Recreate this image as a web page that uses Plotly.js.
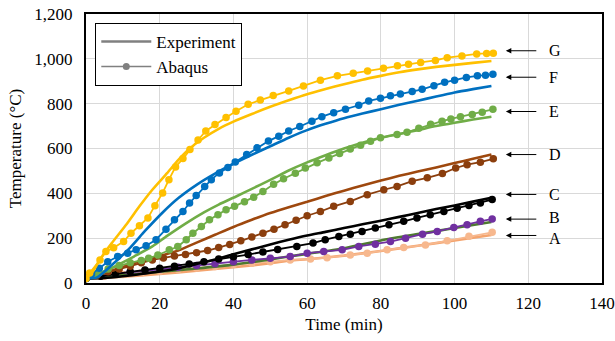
<!DOCTYPE html>
<html>
<head>
<meta charset="utf-8">
<script src="https://cdn.plot.ly/plotly-3.0.1.min.js"></script>
<style>html,body{margin:0;padding:0;background:#fff;}#chart{width:615px;height:341px;}</style>
</head>
<body>
<div id="chart"></div>
<script>
// ---- Data ----
const seriesLabels = ["A", "B", "C", "D", "E", "F", "G"];

// G
const gExpT = [0,2,4,7,11,14.5,18,22,25,28,32,36,40,45,50,55,60,65,70,75,80,85,90,95,100,105,110];
const gExpV = [20,55,110,178,262,342,416,490,548,598,648,688,720,754,786,815,842,865,887,907,924,940,953,964,973,982,990];
const gAbqT = [0,1,3.8,5.4,7.5,10.2,12.2,14.5,16.8,18.7,20.8,22.5,24.3,26.3,28.2,30.4,32.5,35,38,40.7,44,47.3,50.8,55,59,63.6,68.2,72.5,76.4,80.7,84.5,87.5,90.8,94.8,98,102,106,108.7,110.5];
const gAbqV = [20,45,103,140,157,185,222,255,290,345,402,461,518,555,596,638,678,707,738,766,797,816,836,857,879,905,924,936,946,958,969,976,984,993,1005,1013,1022,1024,1025];

// F
const fExpT = [0,3,7,12,16,21,25,30,35,40,45,50,55,60,65,70,75,80,85,90,95,100,105,110];
const fExpV = [20,25,80,158,232,318,378,438,488,532,572,610,648,682,710,735,756,775,795,813,832,850,865,879];
const fAbqT = [0,1.5,3.6,5.9,8.6,11.3,13.6,16.3,19,21.7,24,26.3,28.1,29.9,32.2,34,36.2,38.5,40.5,43.6,46.4,49.5,52.3,55,58,61.3,64,67.2,70.4,74,76.7,79.9,82.6,85.3,88.5,91.2,94.4,97.3,100,103.2,106.2,108.4,110.4];
const fAbqV = [20,40,66,95,118,133,148,166,193,240,282,319,357,390,431,461,491,515,540,573,603,633,655,678,698,722,742,760,775,793,812,824,835,843,854,864,880,895,905,917,924,927,931];

// E
const eExpT = [0,4,8,13,18,22,27,32,36,41,45,50,55,60,65,70,75,80,85,90,95,100,105,110];
const eExpV = [20,40,75,118,163,210,265,315,350,388,420,460,502,538,570,600,626,648,665,682,700,715,729,742];
const eAbqT = [0,3,6,9,12,15,17,19.5,22.6,24.9,27.2,29,31.3,33.5,35.8,38,40.3,43,45.5,48,50.9,53.6,56.8,59.5,62.7,65.9,68.8,71.7,74.5,77.2,79.9,84.4,87.1,90.3,93.5,96.6,99,101.6,104.8,107.5,110.4];
const eAbqV = [20,42,62,78,90,100,110,125,148,163,193,222,252,282,305,327,342,362,383,408,440,465,490,513,536,558,578,598,615,632,648,662,672,690,708,722,732,742,752,762,775];

// D
const dExpT = [0,5,10,15,20,25,30,35,40,45,50,55,60,65,70,75,80,85,90,95,100,105,110];
const dExpV = [20,45,72,98,120,145,180,215,250,282,312,338,362,388,412,435,457,478,497,515,535,554,573];
const dAbqT = [0,3,6,9,12,15,18,21,24,27,30,33,36,39,42,45,48,51,54,57,60,63.6,67.2,71.7,76.3,80.8,84.4,88.5,92.6,96.7,100.3,103.4,107,110.5];
const dAbqV = [20,35,50,62,75,90,103,112,120,127,135,145,158,172,188,205,222,240,260,280,300,319,342,364,394,416,431,454,469,488,513,528,539,554];

// C
const cExpT = [0,5,10,15,20,25,30,35,40,45,50,55,60,65,70,75,80,85,90,95,100,105,110];
const cExpV = [20,22,30,40,52,65,85,105,128,150,172,193,212,228,245,262,278,295,312,330,346,363,380];
const cAbqT = [0,4,8,12,16,20,24,28,32,36,40,44,48,52,57.2,61.6,64.9,68.6,71.7,74.9,78.5,82.2,86.2,89.8,93.4,97.1,100.7,103.9,107,110.2];
const cAbqV = [20,30,42,50,58,66,75,85,95,107,117,127,138,150,163,178,193,207,218,230,245,260,275,290,304,319,334,346,357,372];

// B
const bExpT = [0,10,20,30,40,50,55,60,70,80,90,100,110];
const bExpV = [20,35,50,65,82,105,118,130,155,190,218,245,272];
const bAbqT = [0,4,8,12,16,20,25,30,35,40,45,50,55.4,60,64.5,69.5,74,78.5,82.6,86.7,91.3,95.3,99.8,103.4,107,110.2];
const bAbqV = [20,32,42,48,55,62,70,78,86,95,103,110,118,133,140,148,163,173,185,200,218,230,248,260,275,286];

// A
const aExpT = [0,10,20,30,40,50,55.4,60,70,80,90,100,110];
const aExpV = [18,28,40,55,70,88,100,106,122,143,166,190,214];
const aAbqT = [0,5,10,15,20,25,30,35,40,45,50,55.4,60.9,65.4,71.7,76.3,81.7,86.2,92.1,98,103.9,110.2];
const aAbqV = [20,30,38,45,52,60,67,74,82,88,95,103,107,113,125,133,148,158,170,188,208,226];

// label arrows (A..G) and label text levels
const arrowY = [212, 285, 395, 573, 765, 918, 1036];
const textY  = [198, 291, 395, 573, 765, 918, 1036];

// ---- Build traces ----
const series = [
  {exp:[aExpT,aExpV], abq:[aAbqT,aAbqV], ec:'#F4A46E', ac:'#F7B88E'},
  {exp:[bExpT,bExpV], abq:[bAbqT,bAbqV], ec:'#4E7A30', ac:'#7030A0'},
  {exp:[cExpT,cExpV], abq:[cAbqT,cAbqV], ec:'#000000', ac:'#000000'},
  {exp:[dExpT,dExpV], abq:[dAbqT,dAbqV], ec:'#9E480E', ac:'#8B3E0D'},
  {exp:[eExpT,eExpV], abq:[eAbqT,eAbqV], ec:'#70AD47', ac:'#70AD47'},
  {exp:[fExpT,fExpV], abq:[fAbqT,fAbqV], ec:'#0070C0', ac:'#0070C0'},
  {exp:[gExpT,gExpV], abq:[gAbqT,gAbqV], ec:'#FFC000', ac:'#FFC000'}
];
const traces = [];
series.forEach(s => {
  traces.push({x:s.exp[0], y:s.exp[1], mode:'lines', type:'scatter', showlegend:false,
    line:{color:s.ec, width:2.6, shape:'spline', smoothing:0.6}, hoverinfo:'skip'});
  traces.push({x:s.abq[0], y:s.abq[1], mode:'lines+markers', type:'scatter', showlegend:false,
    line:{color:s.ac, width:1.8}, marker:{color:s.ac, size:7.5}, hoverinfo:'skip'});
});
// legend keys
traces.push({x:[-50], y:[-50], mode:'lines', name:'Experiment', line:{color:'#808080', width:2.6}, showlegend:true});
traces.push({x:[-50], y:[-50], mode:'lines+markers', name:'Abaqus', line:{color:'#808080', width:1.5}, marker:{color:'#808080', size:7}, showlegend:true});

const font = 'Liberation Serif';
const annotations = [];
seriesLabels.forEach((lab, i) => {
  annotations.push({x:113.9, y:arrowY[i], xref:'x', yref:'y', text:'', showarrow:true,
    ax:32, ay:0, axref:'pixel', arrowhead:2, arrowsize:1.1, arrowwidth:1, arrowcolor:'#000'});
  annotations.push({x:125.3, y:textY[i], xref:'x', yref:'y', text:lab, showarrow:false, borderpad:0,
    xanchor:'left', yanchor:'middle', font:{family:font, size:16, color:'#000'}});
});

const layout = {
  width:615, height:341,
  margin:{l:86, r:13, t:14, b:58},
  paper_bgcolor:'#fff', plot_bgcolor:'#fff',
  font:{family:font, size:17, color:'#000'},
  xaxis:{range:[0,140], dtick:20, tick0:0, showgrid:true, gridcolor:'#d9d9d9', gridwidth:1,
    showline:true, linecolor:'#000', linewidth:2, mirror:true, zeroline:false,
    ticks:'outside', ticklen:4, tickcolor:'rgba(0,0,0,0)',
    tickfont:{family:font, size:17}, title:{text:'Time (min)', font:{family:font, size:17}, standoff:6}},
  yaxis:{range:[0,1200], dtick:200, tick0:0, tickformat:',', showgrid:true, gridcolor:'#d9d9d9', gridwidth:1,
    showline:true, linecolor:'#000', linewidth:2, mirror:true, zeroline:false,
    ticks:'outside', ticklen:8, tickcolor:'rgba(0,0,0,0)',
    tickfont:{family:font, size:17}, title:{text:'Temperature (°C)', font:{family:font, size:17}, standoff:8}},
  legend:{x:0.018, y:0.967, xanchor:'left', yanchor:'top', bgcolor:'#fff', bordercolor:'#000', borderwidth:1,
    font:{family:font, size:17}, tracegroupgap:0, itemwidth:50},
  annotations:annotations,
  showlegend:true
};
Plotly.newPlot('chart', traces, layout, {staticPlot:true, displayModeBar:false});
</script>
</body>
</html>
